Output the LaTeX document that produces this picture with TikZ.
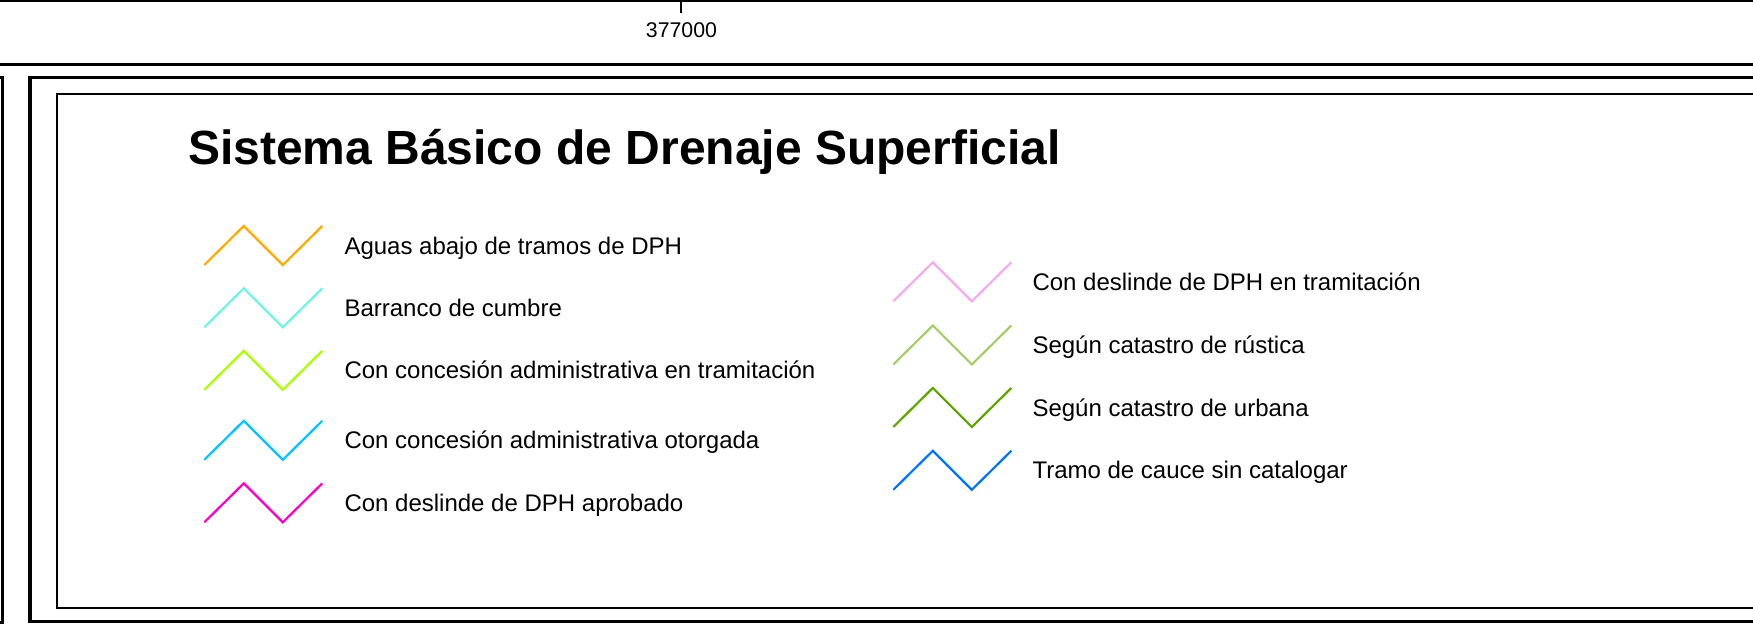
\documentclass[tikz,border=0pt]{standalone}
\usepackage{fontspec}
\setmainfont{Liberation Sans}

\definecolor{aguasabajo}{RGB}{255,170,0}
\definecolor{cumbre}{RGB}{110,245,225}
\definecolor{concesiontram}{RGB}{170,255,0}
\definecolor{concesionotorg}{RGB}{0,195,255}
\definecolor{deslindeaprob}{RGB}{250,0,200}
\definecolor{deslindetram}{RGB}{245,170,240}
\definecolor{rustica}{RGB}{165,205,105}
\definecolor{urbana}{RGB}{95,165,0}
\definecolor{sincatalogar}{RGB}{0,115,255}

\tikzset{
  marco/.style={line width=3.5pt},
  marcofino/.style={line width=2pt},
  zigzag/.style={line width=2.2pt, line join=miter},
  etiqueta/.style={anchor=base west, inner sep=0pt, font=\fontsize{24}{29}\selectfont},
}

\begin{document}
\begin{tikzpicture}[x=1pt,y=-1pt]
        \useasboundingbox (0,0) rectangle (1753,628);
        % Grid frame and coordinate.
        \draw[marco] (-5,0.5) -- (1760,0.5);
        \draw[line width=1.8pt] (681,0) -- (681,13);
        \node[anchor=base, inner sep=0pt, font=\fontsize{21.3}{25}\selectfont] (coordx) at (681.5,37.3) {377000};
        \draw[marco] (-5,64.5) -- (1760,64.5);
        % Legend frames.
        \draw[line width=3pt] (-10,77.5) -- (2.5,77.5) -- (2.5,622) -- (-10,622);
        \draw[marco] (1760,77.5) -- (30,77.5) -- (30,621.3) -- (1760,621.3);
        \draw[marcofino] (1760,94) -- (57,94) -- (57,608) -- (1760,608);
        \node[anchor=base west, inner sep=0pt, font=\bfseries\fontsize{48}{58}\selectfont] (titulo) at (188,165) {Sistema Básico de Drenaje Superficial};
        % Left column.
        \foreach \x/\y/\col/\name/\texto in {
            204.3/245.5/aguasabajo/aguas/Aguas abajo de tramos de DPH,
            204.3/307.8/cumbre/cumbre/Barranco de cumbre,
            204.3/370.3/concesiontram/conctram/Con concesión administrativa en tramitación,
            204.3/440.3/concesionotorg/concotorg/Con concesión administrativa otorgada,
            204.3/502.8/deslindeaprob/deslaprob/Con deslinde de DPH aprobado}{
            \draw[zigzag, \col] (\x,\y+19.5) -- ++(39.5,-39) -- ++(39,39) -- ++(39.5,-39);
            \node[etiqueta] (\name) at (\x+140,\y+8.6) {\texto};
        }
        % Right column.
        \foreach \x/\y/\col/\name/\texto in {
            893.3/281.8/deslindetram/desltram/Con deslinde de DPH en tramitación,
            893.3/345/rustica/rustica/Según catastro de rústica,
            893.3/407.5/urbana/urbana/Según catastro de urbana,
            893.3/470.3/sincatalogar/sincat/Tramo de cauce sin catalogar}{
            \draw[zigzag, \col] (\x,\y+19.5) -- ++(39.5,-39) -- ++(39,39) -- ++(39.5,-39);
            \node[etiqueta] (\name) at (\x+139,\y+8.6) {\texto};
        }
    \end{tikzpicture}
\end{document}
